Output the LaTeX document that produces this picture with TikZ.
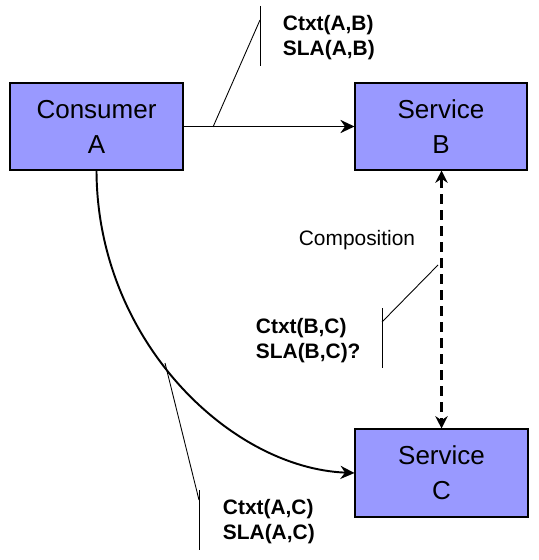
\documentclass[tikz,border=0pt]{standalone}
\usepackage{fontspec}
\setmainfont{Liberation Sans}
\usetikzlibrary{arrows.meta}
\definecolor{boxblue}{HTML}{9999FF}

\begin{document}
\begin{tikzpicture}[x=0.02cm, y=-0.02cm, line width=1.1pt,
    box/.style={draw=black, line width=0.6pt, fill=boxblue, align=center,
        minimum width=3.46cm, minimum height=1.74cm,
        inner sep=0pt, font=\fontsize{14.8}{19.9}\selectfont},
    note/.style={anchor=west, align=left, inner sep=0pt,
        font=\fontsize{11.9}{14.2}\selectfont\bfseries},
    tip/.style={-{Stealth[length=8pt,width=7.5pt]}},
    composed/.style={{Stealth[length=7pt,width=7pt]}-{Stealth[length=7pt,width=7pt]},
        line width=1.8pt, dash pattern=on 0.2cm off 0.12cm},
    callout/.style={line width=0.5pt}]
    \useasboundingbox (0,0) rectangle (538,560);

    % বাক্স (Boxes)
    \node[box] (A) at (96.5,126.5) {Consumer\\A};
    \node[box, minimum width=3.44cm] (B) at (441,126.5) {Service\\B};
    \node[box, minimum height=1.76cm] (C) at (441.5,473) {Service\\C};

    % তীর (Arrows)
    \draw[tip] (A) -- (B);
    \draw[tip] (A.south) .. controls (97,340) and (230,468) .. (C.west);
    \draw[composed] (B.south -| C.north) -- (C.north);

    % লেবেল (Labels)
    \node[font=\fontsize{11.9}{14}\selectfont] (comp) at (357,240) {Composition};
    \node[note] (ab) at (282,38) {Ctxt(A,B)\\SLA(A,B)};
    \node[note] (bc) at (255,341) {Ctxt(B,C)\\SLA(B,C)?};
    \node[note] (ac) at (222,522) {Ctxt(A,C)\\SLA(A,C)};

    % নির্দেশক রেখা (Callout lines)
    \coordinate (abfoot) at (213,127);
    \coordinate (abbend) at (260,20);
    \coordinate (bcfoot) at (438,265);
    \coordinate (bcbend) at (382,322);
    \coordinate (acfoot) at (165,363);
    \coordinate (acbend) at (199,500);
    \draw[callout] (abfoot) -- (abbend);
    \draw[callout] (260,6) -- (260,66);
    \draw[callout] (bcfoot) -- (bcbend);
    \draw[callout] (382,308) -- (382,368);
    \draw[callout] (acfoot) -- (acbend);
    \draw[callout] (199,490) -- (199,550);

\end{tikzpicture}
\end{document}
